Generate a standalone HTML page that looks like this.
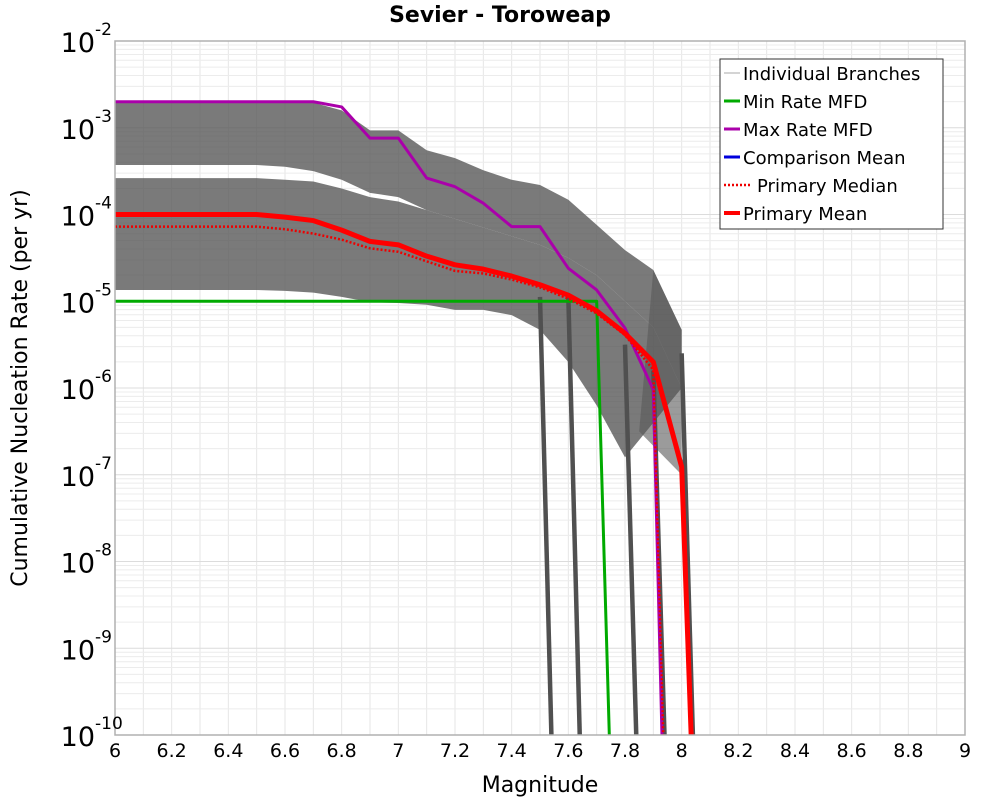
<!DOCTYPE html>
<html><head><meta charset="utf-8"><style>
body{margin:0;background:#fff;}
svg text{font-family:"DejaVu Sans","Liberation Sans",sans-serif;}
</style></head><body>
<svg id="chart" width="1000" height="800" xmlns="http://www.w3.org/2000/svg">
<defs><clipPath id="plotclip"><rect x="115" y="41" width="850" height="694"/></clipPath></defs>
<text x="500" y="22" text-anchor="middle" font-size="22" font-weight="bold">Sevier - Toroweap</text>
<g id="grid"></g>
<g clip-path="url(#plotclip)"><g id="bands"></g><g id="series"></g></g>
<rect x="115" y="41" width="850" height="694" fill="none" stroke="#b0b0b0" stroke-width="1.5"/>
<g id="xticks"></g>
<g id="yticks"></g>
<text x="540" y="792" text-anchor="middle" font-size="22">Magnitude</text>
<text transform="translate(27,388) rotate(-90)" text-anchor="middle" font-size="22">Cumulative Nucleation Rate (per yr)</text>
<g>
<rect x="720" y="59" width="223" height="170" fill="#fff" stroke="#333" stroke-width="1"/>
<g><line x1="724" y1="73" x2="740" y2="73" stroke="#aaa" stroke-width="1"/><text x="743" y="80" font-size="18">Individual Branches</text></g>
<g><line x1="724" y1="101" x2="740" y2="101" stroke="#00aa00" stroke-width="3"/><text x="743" y="108" font-size="18">Min Rate MFD</text></g>
<g><line x1="724" y1="129" x2="740" y2="129" stroke="#aa00aa" stroke-width="3"/><text x="743" y="136" font-size="18">Max Rate MFD</text></g>
<g><line x1="724" y1="157" x2="740" y2="157" stroke="#0000dd" stroke-width="3"/><text x="743" y="164" font-size="18">Comparison Mean</text></g>
<g><line x1="724" y1="185" x2="752" y2="185" stroke="#ee0000" stroke-width="2.5" stroke-dasharray="2,2"/><text x="757" y="192" font-size="18">Primary Median</text></g>
<g><line x1="724" y1="213" x2="740" y2="213" stroke="#ff0000" stroke-width="4"/><text x="743" y="220" font-size="18">Primary Mean</text></g>
</g>
</svg>
<script>
const xTicks=[6,6.2,6.4,6.6,6.8,7,7.2,7.4,7.6,7.8,8,8.2,8.4,8.6,8.8,9];
const yTickExps=[-2,-3,-4,-5,-6,-7,-8,-9,-10];
const mags=[6.0,6.1,6.2,6.3,6.4,6.5,6.6,6.7,6.8,6.9,7.0,7.1,7.2,7.3,7.4,7.5,7.6,7.7,7.8,7.9,8.0];
// log10 rates
const maxMFD=[-2.70,-2.70,-2.70,-2.70,-2.70,-2.70,-2.70,-2.70,-2.76,-3.12,-3.12,-3.58,-3.68,-3.87,-4.14,-4.14,-4.62,-4.87,-5.31,-6.02];
const maxTail=[7.935,-10.6];
const meanMFD=[-4.0,-4.0,-4.0,-4.0,-4.0,-4.0,-4.03,-4.07,-4.18,-4.31,-4.35,-4.48,-4.58,-4.63,-4.71,-4.81,-4.93,-5.11,-5.37,-5.70,-6.91];
const meanTail=[8.04,-10.6];
const medianMFD=[-4.14,-4.14,-4.14,-4.14,-4.14,-4.14,-4.17,-4.22,-4.29,-4.39,-4.43,-4.54,-4.65,-4.68,-4.75,-4.84,-4.97,-5.14,-5.39,-5.79];
const medianTail=[7.94,-10.6];
const minMFD=[-5,-5,-5,-5,-5,-5,-5,-5,-5,-5,-5,-5,-5,-5,-5,-5,-5,-5];
const minTail=[7.75,-10.6];
const upperClusterTop=[-2.71,-2.71,-2.71,-2.71,-2.71,-2.71,-2.71,-2.71,-2.80,-3.03,-3.03,-3.26,-3.35,-3.49,-3.60,-3.66,-3.83,-4.12,-4.41,-4.64,-5.33];
const upperClusterBot=[-3.43,-3.43,-3.43,-3.43,-3.43,-3.43,-3.45,-3.50,-3.60,-3.75,-3.80,-3.95,-4.05,-4.15,-4.25,-4.35,-4.50,-4.70,-5.00,-5.30,-6.00];
const lowerClusterTop=[-3.58,-3.58,-3.58,-3.58,-3.58,-3.58,-3.60,-3.62,-3.70,-3.80,-3.85,-3.95,-4.05,-4.15,-4.25,-4.35,-4.50,-4.70,-5.00,-5.30,-6.00];
const lowerClusterBot=[-4.87,-4.87,-4.87,-4.87,-4.87,-4.87,-4.88,-4.90,-4.95,-5.01,-5.02,-5.04,-5.10,-5.10,-5.16,-5.33,-5.70,-6.20,-6.80];
const tailMags=[7.9,8.0,8.0,7.85];
const tailVals=[-4.64,-5.33,-7.0,-6.5];
const dropMags=[7.5,7.6,7.8,7.9,8.0];
const dropStart=[-4.95,-4.95,-5.5,-5.8,-5.6];
const X=m=>115+(m-6)*850/3;
const Y=v=>41+(-2-v)*86.75;
const NS="http://www.w3.org/2000/svg";
function mk(tag,attrs,parent){const e=document.createElementNS(NS,tag);for(const k in attrs)e.setAttribute(k,attrs[k]);document.getElementById(parent).appendChild(e);return e;}
for(let i=1;i<30;i++){const l=mk('line',{x1:X(6+i*0.1),x2:X(6+i*0.1),y1:41,y2:735,stroke:'#e6e6e6','stroke-width':1},'grid');

}
for(let d=-10;d<-2;d++){for(let k=1;k<10;k++){const v=d+Math.log10(k);const l=mk('line',{x1:115,x2:965,y1:Y(v),y2:Y(v),stroke:k==1?'#dcdcdc':'#ececec','stroke-width':1},'grid');

}}
xTicks.forEach(t=>{const e=mk('text',{x:X(t),y:757,'text-anchor':'middle','font-size':19},'xticks');e.textContent=String(t);

});
yTickExps.forEach(p=>{const e=mk('text',{x:95,y:Y(p)+11,'text-anchor':'end','font-size':27},'yticks');e.textContent='10';


const s=mk('text',{x:95,y:Y(p)-6,'font-size':17},'yticks');s.textContent=String(p);

});
function pts(vals){return vals.map((v,i)=>X(mags[i])+','+Y(v));}
function band(top,bot,name,op){const p=pts(top).concat(pts(bot).reverse());const e=mk('polygon',{points:p.join(' '),fill:'#595959','fill-opacity':op},'bands');

}
band(upperClusterTop,upperClusterBot,'branch-band-upper',0.8);
band(lowerClusterTop,lowerClusterBot,'branch-band-lower',0.8);
const tail=mk('polygon',{points:tailMags.map((m,i)=>X(m)+','+Y(tailVals[i])).join(' '),fill:'#595959','fill-opacity':0.6},'bands');


dropMags.forEach((m,i)=>{const l=mk('line',{x1:X(m),y1:Y(dropStart[i]),x2:X(m+0.045),y2:Y(-10.6),stroke:'#505050','stroke-width':4.5},'bands');

});
function series(vals,tailPt,color,w,name,dash){const p=pts(vals);p.push(X(tailPt[0])+','+Y(tailPt[1]));const e=mk('polyline',{points:p.join(' '),fill:'none',stroke:color,'stroke-width':w,'stroke-linejoin':'round'},'series');if(dash)e.setAttribute('stroke-dasharray',dash);

}
series(minMFD,minTail,'#00aa00',3,'min-rate-line');
series(maxMFD,maxTail,'#aa00aa',3,'max-rate-line');
series(medianMFD,medianTail,'#ee0000',2.5,'primary-median-line','2,2');
series(meanMFD,meanTail,'#ff0000',5,'primary-mean-line');
</script>
</body></html>
